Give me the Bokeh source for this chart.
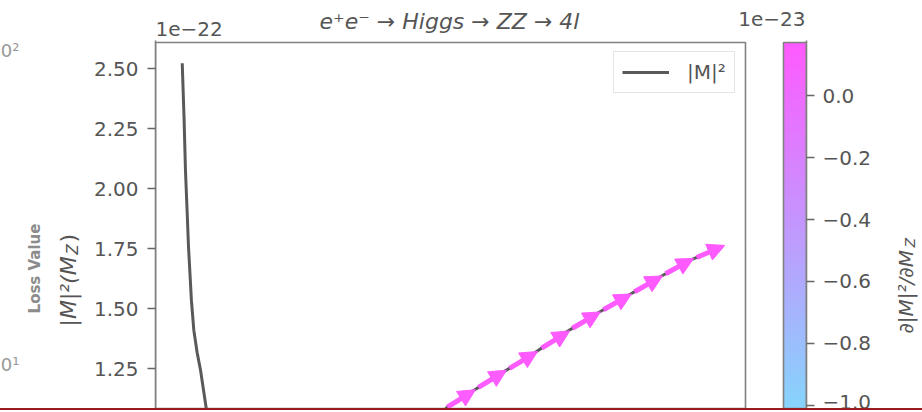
import math
import numpy as np
from bokeh.plotting import figure
from bokeh.models import (Range1d, Label, Arrow, NormalHead, ColumnDataSource,
                          LinearColorMapper, FixedTicker, CustomJSTickFormatter,
                          Div, LinearAxis)
from bokeh.layouts import column, row
from bokeh.transform import linear_cmap
from bokeh.embed import file_html
from bokeh.resources import INLINE

# ---------------- data ----------------
# |M|^2 curve, values in units of 1e-22, M_Z in GeV
mz = [79.99, 80.06, 80.11, 80.17, 80.22, 80.28, 80.33, 80.42, 80.54, 80.67,
      80.78, 80.88, 81.41, 82.89, 85.11, 87.33, 88.81, 89.80, 90.78, 91.78,
      92.89, 94.00, 95.11, 96.29, 97.46, 98.63, 100.00]
m2 = [2.523, 2.285, 2.076, 1.910, 1.764, 1.639, 1.535, 1.410, 1.319, 1.243,
      1.160, 1.085, 0.830, 0.660, 0.620, 0.785, 0.950, 1.090, 1.160, 1.230,
      1.305, 1.389, 1.465, 1.542, 1.618, 1.694, 1.760]

# quiver arrows (tail position, vector components, gradient in 1e-23)
arrow_x = [89.81, 90.96, 92.11, 93.30, 94.44, 95.59, 96.74, 97.89, 99.04]
arrow_y = [1.090, 1.173, 1.252, 1.336, 1.419, 1.496, 1.571, 1.646, 1.714]
arrow_u = [1.04, 1.04, 1.04, 1.04, 1.04, 1.04, 1.04, 1.04, 1.04]
arrow_v = [0.073, 0.071, 0.070, 0.072, 0.068, 0.066, 0.066, 0.064, 0.050]
arrow_grad = [0.15, 0.15, 0.16, 0.16, 0.16, 0.17, 0.17, 0.17, 0.17]

m2_ticks = [1.25, 1.50, 1.75, 2.00, 2.25, 2.50]
grad_ticks = [-1.0, -0.8, -0.6, -0.4, -0.2, 0.0]

xlim = (79.0, 100.85)        # main axes limits (GeV)
ylim = (1.0846, 2.6096)      # main axes limits (1e-22)
glim = (-1.0097, 0.171)      # colour bar limits (1e-23)
cmap_ends = ["#86d4fc", "#ff5aff"]

# ---------------- style / geometry ----------------
FONT = "DejaVu Sans"
TXT = "#555555"
EDGE = "#808080"
LINE = "#595959"

TOTAL_W = 922
TOP_H = 40            # strip above the axes
ROW_H = 368           # main row height
LEFT_W = 84           # strip left of the y tick labels
RIGHT_W = 37          # strip right of the colour-bar tick labels
MAIN_W = TOTAL_W - LEFT_W - RIGHT_W
FL = 155 - LEFT_W     # frame left inside main figure
FR = 806 - LEFT_W     # frame right (colour bar right edge)
FR_MAIN = 745 - LEFT_W
CB_L = 783 - LEFT_W
BOX_TOP = 2           # axes box top below the frame top
SH = 7                # label baseline correction (px)


def extend_top(lim, px):
    span = lim[1] - lim[0]
    return (lim[0], lim[1] + span * px / (ROW_H - px))


x_rng = (xlim[0], xlim[0] + (xlim[1] - xlim[0]) * (FR - FL) / (FR_MAIN - FL))
y_rng = extend_top(ylim, BOX_TOP)
g_rng = extend_top(glim, BOX_TOP)
cbx_rng = (1 - (FR - FL) / (FR - CB_L), 1)


def hex2rgb(h):
    return np.array([int(h[i:i + 2], 16) for i in (1, 3, 5)], dtype=float)


c0, c1 = hex2rgb(cmap_ends[0]), hex2rgb(cmap_ends[1])
palette = ["#%02x%02x%02x" % tuple(int(round(v)) for v in c0 + (c1 - c0) * t)
           for t in np.linspace(0, 1, 256)]
mapper = LinearColorMapper(palette=palette, low=glim[0], high=glim[1])


def strip(w, h):
    f = figure(width=w, height=h, x_range=Range1d(0, w), y_range=Range1d(0, h),
               x_axis_location=None, y_axis_location=None,
               min_border_left=0, min_border_right=0, min_border_top=0,
               min_border_bottom=0, toolbar_location=None, output_backend="svg")
    f.title.visible = False
    f.grid.visible = False
    f.outline_line_color = None
    f.background_fill_color = "white"
    f.border_fill_color = "white"
    return f


def lab(fig, text, x, y, size, **kw):
    opts = dict(x=x, y=y, x_units="canvas", y_units="canvas", text=text,
                text_font=FONT, text_font_size=size, text_color=TXT,
                text_align="left", text_baseline="alphabetic")
    opts.update(kw)
    fig.add_layout(Label(**opts))


# ---------------- main axes + colour bar ----------------
p = figure(width=MAIN_W, height=ROW_H, x_range=Range1d(*x_rng), y_range=Range1d(*y_rng),
           x_axis_location=None, y_axis_location="left",
           min_border_left=FL, min_border_right=MAIN_W - FR, min_border_top=0,
           min_border_bottom=0, toolbar_location=None, output_backend="svg")
p.title.visible = False
p.extra_x_ranges = {"cbx": Range1d(*cbx_rng)}
p.extra_y_ranges = {"cb": Range1d(*g_rng)}
p.grid.visible = False
p.outline_line_color = None
p.background_fill_color = "white"
p.border_fill_color = "white"

ya = p.yaxis[0]
ya.ticker = FixedTicker(ticks=m2_ticks)
ya.formatter = CustomJSTickFormatter(code="return tick.toFixed(2);")
ya.major_tick_out = 8
ya.major_tick_in = 0
ya.minor_tick_out = 0
ya.minor_tick_in = 0
ya.major_tick_line_color = "#666666"
ya.major_tick_line_width = 1.5
ya.axis_line_color = EDGE
ya.axis_line_width = 1.6
ya.major_label_text_font = FONT
ya.major_label_text_font_size = "20px"
ya.major_label_text_color = TXT
ya.major_label_standoff = 9

img = np.linspace(glim[0], glim[1], 256).reshape(256, 1)
p.image(image=[img], x=0, y=glim[0], dw=1, dh=glim[1] - glim[0],
        color_mapper=mapper, x_range_name="cbx", y_range_name="cb")
p.quad(left=[0], right=[1], bottom=[glim[0]], top=[glim[1]], fill_color=None,
       line_color=EDGE, line_width=1.6, x_range_name="cbx", y_range_name="cb")

ca = LinearAxis(y_range_name="cb", ticker=FixedTicker(ticks=grad_ticks),
                formatter=CustomJSTickFormatter(
                    code="return (tick < -1e-9 ? '\u2212' : '') + Math.abs(tick).toFixed(1);"))
ca.major_tick_out = 8
ca.major_tick_in = 0
ca.minor_tick_out = 0
ca.minor_tick_in = 0
ca.major_tick_line_color = "#666666"
ca.major_tick_line_width = 1.5
ca.axis_line_color = EDGE
ca.axis_line_width = 1.6
ca.major_label_text_font = FONT
ca.major_label_text_font_size = "20px"
ca.major_label_text_color = TXT
ca.major_label_standoff = 8
p.add_layout(ca, "right")

p.quad(left=[xlim[0]], right=[xlim[1]], bottom=[ylim[0]], top=[ylim[1]],
       fill_color=None, line_color=EDGE, line_width=1.6)

ln = p.line(mz, m2, line_color=LINE, line_width=3, legend_label="|M|\u00b2")

x_end = [x + u for x, u in zip(arrow_x, arrow_u)]
y_end = [y + v for y, v in zip(arrow_y, arrow_v)]
asrc = ColumnDataSource(dict(x0=arrow_x, y0=arrow_y, x1=x_end, y1=y_end, g=arrow_grad))
cmap = linear_cmap("g", palette, glim[0], glim[1])
arr = Arrow(x_start="x0", y_start="y0", x_end="x1", y_end="y1", source=asrc,
            line_color=cmap, line_width=5,
            end=NormalHead(size=17, fill_color=cmap, line_color=cmap, line_width=1))
p.add_layout(arr)

leg = p.legend[0]
leg.location = (458, 315)
leg.label_text_font = FONT
leg.label_text_font_size = "20px"
leg.label_text_color = TXT
leg.glyph_width = 47
leg.glyph_height = 24
leg.label_height = 24
leg.label_standoff = 18
leg.padding = 8
leg.margin = 0
leg.border_line_color = "#cccccc"
leg.border_line_width = 1
leg.background_fill_alpha = 0.8

# ---------------- text strips ----------------
top = strip(TOTAL_W, TOP_H)
lab(top, "e\u207ae\u207b \u2192 Higgs \u2192 ZZ \u2192 4l", 449, 28 - SH, "22px",
    text_align="center", text_font_style="italic")
lab(top, "1e\u221222", 155, 35 - SH, "20px")
lab(top, "1e\u221223", 805, 25 - SH, "20px", text_align="right")

left = strip(LEFT_W, ROW_H)
lab(left, "|M|\u00b2(M", 74.5 - SH, 286, "22px", angle=math.pi / 2, text_font_style="italic")
lab(left, "Z", 79 - SH, 214, "15px", angle=math.pi / 2, text_font_style="italic")
lab(left, ")", 74.5 - SH, 202, "22px", angle=math.pi / 2)
lab(left, "Loss Value", 41 - SH, 228, "15px", angle=math.pi / 2, text_align="center",
    text_font_style="bold", text_color="#8c8c8c")
lab(left, "10\u00b2", 19, 17 - SH, "18px", text_align="right", text_color="#999999")
lab(left, "10\u00b9", 19, 331 - SH, "18px", text_align="right", text_color="#999999")

right = strip(RIGHT_W, ROW_H)
lab(right, "\u2202|M|\u00b2/\u2202M", 27 - SH, 293, "20px", angle=math.pi / 2,
    text_font_style="italic")
lab(right, "Z", 31.5 - SH, 207, "14px", angle=math.pi / 2, text_font_style="italic")

red = Div(text="", width=TOTAL_W, height=2, margin=0,
          styles={"background-color": "#991b1e", "padding": "0"})

layout = column(top, row(left, p, right, spacing=0), red, spacing=0)
open("out.html", "w").write(file_html(layout, INLINE))
